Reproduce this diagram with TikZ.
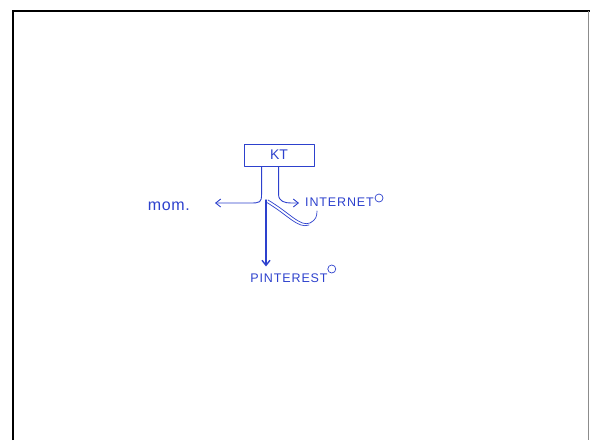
\documentclass[tikz,border=0pt]{standalone}
\usepackage{fontspec}
\setmainfont{Liberation Sans}
\usetikzlibrary{arrows.meta,calc}
\definecolor{inkblue}{RGB}{45,65,205}
\begin{document}
\begin{tikzpicture}[x=1pt,y=-1pt,
  ink/.style={draw=inkblue, line width=0.9pt, line cap=round, line join=round},
  lbl/.style={text=inkblue, font=\fontsize{14}{16}\selectfont, inner sep=1pt},
  caps/.style={lbl, font=\fontsize{12.5}{14}\selectfont\addfontfeature{LetterSpace=7}},
  tip/.style={-{Straight Barb[length=5pt,width=8pt]}},
  circmark/.style={draw=inkblue, circle, line width=0.7pt, inner sep=0pt, minimum size=8pt}]
\useasboundingbox (0,0) rectangle (590,440);
\draw[black, line width=1.6pt] (13,440) -- (13,11) -- (590,11);
\draw[black!45, line width=0.8pt] (588.5,11) -- (588.5,440);
% nodes
\node[ink, draw, minimum width=70pt, minimum height=22pt, lbl] (kt) at (279,155) {KT};
\node[lbl, anchor=east, font=\fontsize{16}{18}\selectfont\addfontfeature{LetterSpace=4}] (mom) at (191,206) {mom.};
\node[caps, anchor=west] (internet) at (304,202) {INTERNET};
\node[circmark] (c1) at ($(internet.east)+(4,-4)$) {};
\node[caps] (pin) at (289,278) {PINTEREST};
\node[circmark] (c2) at ($(pin.east)+(3,-9)$) {};
% connectors
\coordinate (lj) at ($(kt.south west)+(18,0)$);
\coordinate (rj) at ($(kt.south west)+(35,0)$);
\coordinate (momend) at ($(mom.east)+(24,-3)$);
\coordinate (intend) at ($(internet.west)+(-5,1)$);
\draw[ink, tip] (lj) -- ++(0,28) .. controls ++(0,8) and ++(10,0) .. ($(momend)+(35,0)$) -- (momend);
\draw[ink, tip] (rj) -- ++(0,28) .. controls ++(0,7) and ++(-6,0) .. ($(intend)+(-8,0)$) -- (intend);
\draw[ink, line width=0.7pt] (268,200) .. controls (290,213) and (300,227) .. (310,223) .. controls (316,220) and (317,216) .. (317,211);
\draw[ink, line width=0.7pt] (266,202) .. controls (288,215) and (298,229) .. (309,225);
\draw[ink, line width=1.4pt, tip] (266,200) -- ($(pin.north)+(-23,-6)$);
\end{tikzpicture}
\end{document}
